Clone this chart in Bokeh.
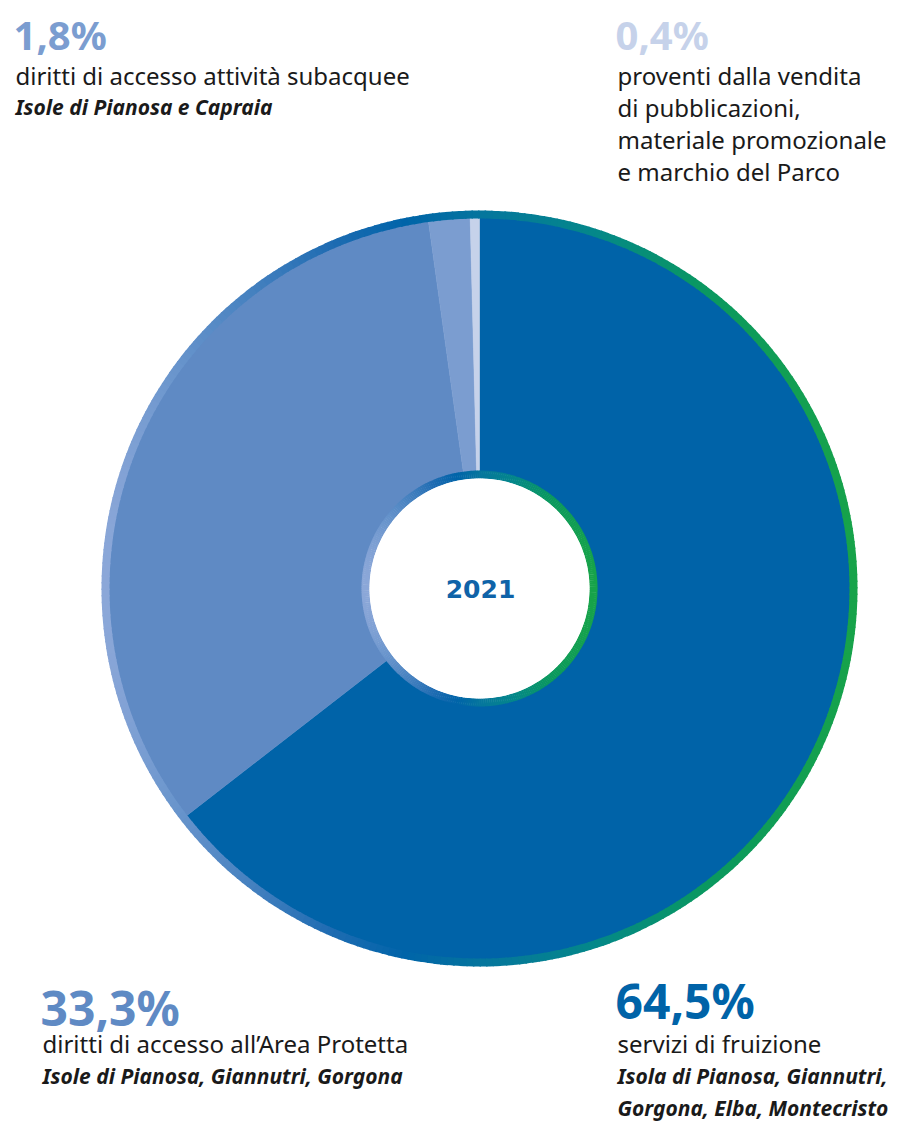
import numpy as np
from bokeh.plotting import figure
from bokeh.models import Range1d, ColumnDataSource
from bokeh.core.properties import value
from bokeh.embed import file_html
from bokeh.resources import INLINE

# ---- data ----
shares = [64.5, 33.3, 1.8, 0.4]
pct_labels = ["64,5%", "33,3%", "1,8%", "0,4%"]
slice_colors = ["#0063a8", "#5f8ac4", "#7b9dd0", "#c6d2ea"]
desc_lines = [
    ["servizi di fruizione"],
    ["diritti di accesso all\u2019Area Protetta"],
    ["diritti di accesso attività subacquee"],
    ["proventi dalla vendita", "di pubblicazioni,", "materiale promozionale", "e marchio del Parco"],
]
place_lines = [
    ["Isola di Pianosa, Giannutri,", "Gorgona, Elba, Montecristo"],
    ["Isole di Pianosa, Giannutri, Gorgona"],
    ["Isole di Pianosa e Capraia"],
    [],
]
year_label = "2021"

W, H = 899, 1122
def Y(y):
    return H - y

p = figure(width=W, height=H, output_backend="svg", toolbar_location=None,
           x_range=Range1d(0, W), y_range=Range1d(0, H), min_border=0)
p.axis.visible = False
p.grid.visible = False
p.outline_line_color = None
p.background_fill_color = "white"
p.border_fill_color = "white"

cx, cy = 479, Y(588)
R_in, R_in_ring, R_pie, R_out = 110, 118, 371, 378

# pie slices (clockwise from 12 o'clock)
vals = np.array(shares, dtype=float)
frac = vals / vals.sum()
cum = np.concatenate([[0], np.cumsum(frac)])
start = np.pi / 2 - cum[:-1] * 2 * np.pi
end = np.pi / 2 - cum[1:] * 2 * np.pi
src = ColumnDataSource(dict(x=[cx] * len(vals), y=[cy] * len(vals), start=start, end=end, color=slice_colors))
p.annular_wedge(x="x", y="y", inner_radius=R_in_ring - 1, outer_radius=R_pie, start_angle="start",
                end_angle="end", direction="clock", fill_color="color", line_color="color",
                line_width=0.5, source=src)

# gradient rings (horizontal gradient: light blue -> blue -> teal -> green)
stops_t = [0.0, 0.3, 0.4, 0.5, 0.65, 0.8, 1.0]
stops_c = ["#8ba7d8", "#1f6cb2", "#0064a9", "#05759e", "#04878a", "#0a9860", "#17a34a"]
def hex2rgb(h):
    return np.array([int(h[i:i + 2], 16) for i in (1, 3, 5)], dtype=float)
stops_rgb = np.array([hex2rgb(c) for c in stops_c])
def grad(t):
    rgb = [np.interp(t, stops_t, stops_rgb[:, k]) for k in range(3)]
    return "#%02x%02x%02x" % tuple(int(round(v)) for v in rgb)

N = 360
a0 = np.linspace(0, 2 * np.pi, N, endpoint=False)
a1 = a0 + 2 * np.pi / N + 0.004
mid = a0 + np.pi / N
cols = [grad((np.cos(m) + 1) / 2) for m in mid]
ring_src = ColumnDataSource(dict(x=[cx] * N, y=[cy] * N, a0=a0, a1=a1, c=cols))
p.annular_wedge(x="x", y="y", inner_radius=R_pie - 1, outer_radius=R_out, start_angle="a0",
                end_angle="a1", fill_color="c", line_color=None, source=ring_src)
p.annular_wedge(x="x", y="y", inner_radius=R_in, outer_radius=R_in_ring, start_angle="a0",
                end_angle="a1", fill_color="c", line_color=None, source=ring_src)
p.circle(x=[cx], y=[cy], radius=R_in, fill_color="white", line_color=None)

p.text(x=[cx + 1], y=[cy], text=[year_label], text_align="center", text_baseline="middle",
       text_font=value("DejaVu Sans"), text_font_style="bold", text_font_size="25px",
       text_color="#0f63a8")

# labels: (x, pct center y, pct size, first desc line y, place first line y)
label_pos = [
    (617, 1000, "48px", 1043, 1075),
    (42, 1007, "48px", 1043, 1075),
    (15, 34, "40px", 75, 106),
    (617, 34, "40px", 75, 0),
]
for i, (lx, pc, fs, ly, py) in enumerate(label_pos):
    p.text(x=[lx - 2], y=[Y(pc)], text=[pct_labels[i]], text_font=value("Noto Sans"),
           text_font_style="bold", text_font_size=fs, text_color=slice_colors[i],
           text_baseline="middle", text_align="left")
    for j, line in enumerate(desc_lines[i]):
        p.text(x=[lx], y=[Y(ly + j * 32)], text=[line], text_font=value("Noto Sans"),
               text_font_size="24px", text_color="#1a1a1a", text_baseline="middle")
    for j, line in enumerate(place_lines[i]):
        p.text(x=[lx], y=[Y(py + j * 32)], text=[line], text_font=value("Noto Sans"),
               text_font_style="bold italic", text_font_size="21px", text_color="#1a1a1a",
               text_baseline="middle")

open("out.html", "w").write(file_html(p, INLINE))
